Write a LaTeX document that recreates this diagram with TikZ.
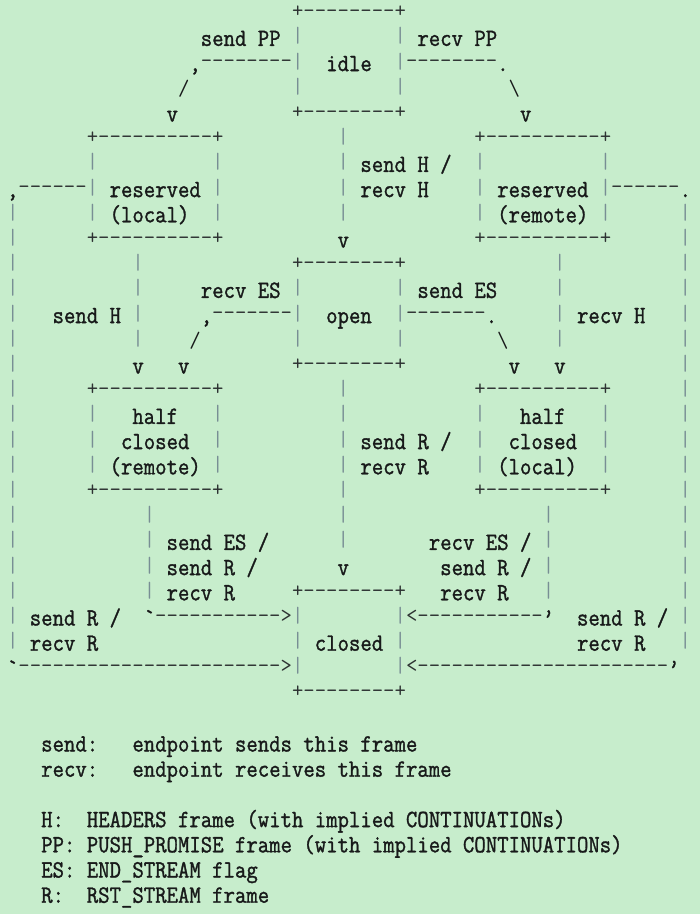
\documentclass[tikz,border=0pt]{standalone}
\usepackage{xcolor}
\usepackage{graphicx}
\ExplSyntaxOn
\cs_new:Npn \dsh #1 { \prg_replicate:nn {#1} { -\kern0pt } }
\ExplSyntaxOff
\definecolor{bgc}{RGB}{199,237,204}
\definecolor{txc}{RGB}{24,26,26}
\definecolor{syc}{RGB}{45,50,50}
\definecolor{brc}{RGB}{120,142,148}
\newlength\cw
\settowidth\cw{\ttfamily\fontsize{21.714}{25}\selectfont M}
\pgfmathsetmacro\monosize{21.714*11.4/\cw}
\newcounter{tk}
\newcommand\mono{\ttfamily\fontsize{\monosize}{25}\selectfont\frenchspacing}
\newcommand\bld[1]{\special{pdf:literal direct 2 Tr 0.3 w}\scalebox{1}[1.12]{#1}\special{pdf:literal direct 0 Tr}}
\tikzset{
  txt/.style={anchor=base west, inner sep=0pt, outer sep=0pt, text=txc, font=\mono},
  sym/.style={txt, text=syc, yshift=3.3pt},
  bar/.style={txt, text=brc, yshift=3pt},
  slash/.style={txt, yshift=1pt},
}
% a token of text at column #2, row #3
\newcommand\atok[4][txt]{\stepcounter{tk}\node[#1] (t\arabic{tk}) at ({11.4*#2-38.6},{-20.7-25.2*#3}) {\bld{#4}};}
% a token of symbols at column #2, row #3
\newcommand\stok[4][sym]{\stepcounter{tk}\node[#1] (t\arabic{tk}) at ({11.4*#2-38.6},{-20.7-25.2*#3}) {#4};}
% vertical bars of one row
\newcommand\brs[2]{\foreach \c in {#2} {\stok[bar]{\c}{#1}{|}}}
\begin{document}
\begin{tikzpicture}[x=1pt,y=1pt]
\fill[bgc] (0,0) rectangle (700,-914);
\useasboundingbox (0,0) rectangle (700,-914);
% row 0
\stok{29}{0}{+\dsh8+}
% row 1
\atok{21}{1}{send PP}\brs{1}{29,38}\atok{40}{1}{recv PP}
% row 2
\atok{20}{2}{,}\stok{21}{2}{\dsh8}\brs{2}{29,38}
\node[txt] (idle) at ({11.4*32-38.6},{-20.7-25.2*2}) {\bld{idle}};
\stok{39}{2}{\dsh8}\atok{47}{2}{.}
% row 3
\stok[slash]{19}{3}{/}\brs{3}{29,38}\stok[slash]{48}{3}{\textbackslash}
% row 4
\atok{18}{4}{v}\stok{29}{4}{+\dsh8+}\atok{49}{4}{v}
% row 5
\stok{11}{5}{+\dsh{10}+}\brs{5}{33}\stok{45}{5}{+\dsh{10}+}
% row 6
\brs{6}{11,22,33,45,56}\atok{35}{6}{send H /}
% row 7
\atok{4}{7}{,}\stok{5}{7}{\dsh6}\brs{7}{11,22,33,45,56}
\node[txt] (resl) at ({11.4*13-38.6},{-20.7-25.2*7}) {\bld{reserved}};
\atok{35}{7}{recv H}
\node[txt] (resr) at ({11.4*47-38.6},{-20.7-25.2*7}) {\bld{reserved}};
\stok{57}{7}{\dsh6}\atok{63}{7}{.}
% row 8
\brs{8}{4,11,22,33,45,56,63}\atok{13}{8}{(local)}\atok{47}{8}{(remote)}
% row 9
\brs{9}{4,63}\stok{11}{9}{+\dsh{10}+}\atok{33}{9}{v}\stok{45}{9}{+\dsh{10}+}
% row 10
\brs{10}{4,15,52,63}\stok{29}{10}{+\dsh8+}
% row 11
\brs{11}{4,15,29,38,52,63}\atok{21}{11}{recv ES}\atok{40}{11}{send ES}
% row 12
\brs{12}{4,15,29,38,52,63}\atok{8}{12}{send H}\atok{21}{12}{,}\stok{22}{12}{\dsh7}
\node[txt] (open) at ({11.4*32-38.6},{-20.7-25.2*12}) {\bld{open}};
\stok{39}{12}{\dsh7}\atok{46}{12}{.}\atok{54}{12}{recv H}
% row 13
\brs{13}{4,15,29,38,52,63}\stok[slash]{20}{13}{/}\stok[slash]{47}{13}{\textbackslash}
% row 14
\brs{14}{4,63}\atok{15}{14}{v}\atok{19}{14}{v}\stok{29}{14}{+\dsh8+}\atok{48}{14}{v}\atok{52}{14}{v}
% row 15
\brs{15}{4,33,63}\stok{11}{15}{+\dsh{10}+}\stok{45}{15}{+\dsh{10}+}
% row 16
\brs{16}{4,11,22,33,45,56,63}\atok{15}{16}{half}\atok{49}{16}{half}
% row 17
\brs{17}{4,11,22,33,45,56,63}
\node[txt] (hcr) at ({11.4*14-38.6},{-20.7-25.2*17}) {\bld{closed}};
\atok{35}{17}{send R /}
\node[txt] (hcl) at ({11.4*48-38.6},{-20.7-25.2*17}) {\bld{closed}};
% row 18
\brs{18}{4,11,22,33,45,56,63}\atok{13}{18}{(remote)}\atok{35}{18}{recv R}\atok{47}{18}{(local)}
% row 19
\brs{19}{4,33,63}\stok{11}{19}{+\dsh{10}+}\stok{45}{19}{+\dsh{10}+}
% row 20
\brs{20}{4,16,33,51,63}
% row 21
\brs{21}{4,16,33,51,63}\atok{18}{21}{send ES /}\atok{41}{21}{recv ES /}
% row 22
\brs{22}{4,16,51,63}\atok{18}{22}{send R /}\atok{33}{22}{v}\atok{42}{22}{send R /}
% row 23
\brs{23}{4,16,51,63}\atok{18}{23}{recv R}\stok{29}{23}{+\dsh8+}\atok{42}{23}{recv R}
% row 24
\brs{24}{4,29,38,63}\atok{6}{24}{send R /}\atok{16}{24}{\textasciigrave}\stok{17}{24}{\dsh{11}>}
\stok{39}{24}{<\dsh{11}}\atok{51}{24}{’}\atok{54}{24}{send R /}
% row 25
\brs{25}{4,29,38,63}\atok{6}{25}{recv R}
\node[txt] (closed) at ({11.4*31-38.6},{-20.7-25.2*25}) {\bld{closed}};
\atok{54}{25}{recv R}
% row 26
\atok{4}{26}{\textasciigrave}\stok{5}{26}{\dsh{23}>}\brs{26}{29,38}\stok{39}{26}{<\dsh{22}}\atok{62}{26}{’}
% row 27
\stok{29}{27}{+\dsh8+}
% legend
\atok{7}{29}{send:}\atok{15}{29}{endpoint sends this frame}
\atok{7}{30}{recv:}\atok{15}{30}{endpoint receives this frame}
\atok{7}{32}{H:}\atok{11}{32}{HEADERS frame (with implied CONTINUATIONs)}
\atok{7}{33}{PP:}\atok{11}{33}{PUSH\_PROMISE frame (with implied CONTINUATIONs)}
\atok{7}{34}{ES:}\atok{11}{34}{END\_STREAM flag}
\atok{7}{35}{R:}\atok{11}{35}{RST\_STREAM frame}
\end{tikzpicture}
\end{document}
